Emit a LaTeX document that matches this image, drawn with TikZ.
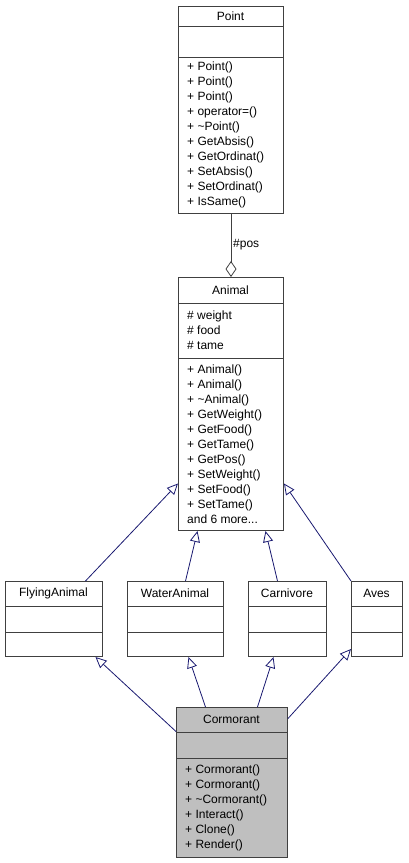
\documentclass[tikz,border=0pt]{standalone}
\usepackage{fontspec}
\setmainfont{Liberation Sans}
\usetikzlibrary{arrows.meta,calc}
\definecolor{edgeblue}{HTML}{191970}
\definecolor{boxgray}{HTML}{404040}
\definecolor{fillgray}{HTML}{BFBFBF}
\begin{document}
\begin{tikzpicture}[x=1pt,y=-1pt,
  classbox/.style={draw=boxgray, line width=1pt, rectangle, inner sep=0pt, anchor=north west},
  sepline/.style={draw=boxgray, line width=1pt},
  title/.style={font=\fontsize{12}{15}\selectfont, inner sep=0pt},
  members/.style={font=\fontsize{12}{15}\selectfont, inner sep=0pt, align=left, anchor=west},
  inherit/.style={draw=edgeblue, line width=0.8pt, -{Triangle[open, length=11pt, width=10pt]}},
  compose/.style={draw=boxgray, line width=0.8pt, -{Diamond[open, length=16pt, width=11pt]}}
]
\useasboundingbox (0,0) rectangle (408,863);

% Point
\node[classbox, minimum width=105pt, minimum height=207pt] (point) at (178,6) {};
\draw[sepline] (178,26) -- (283,26);
\draw[sepline] (178,57) -- (283,57);
\node[title] (pointT) at (230.5,16) {Point};
\node[members] (pointM) at (187,135) {+ Point()\\+ Point()\\+ Point()\\+ operator=()\\+ \textasciitilde Point()\\+ GetAbsis()\\+ GetOrdinat()\\+ SetAbsis()\\+ SetOrdinat()\\+ IsSame()};

% Animal
\node[classbox, minimum width=105pt, minimum height=253pt] (animal) at (178,277) {};
\draw[sepline] (178,303) -- (283,303);
\draw[sepline] (178,358) -- (283,358);
\node[title] (animalT) at (230.5,290) {Animal};
\node[members] (animalA) at (187,330.5) {\# weight\\\# food\\\# tame};
\node[members] (animalM) at (187,444) {+ Animal()\\+ Animal()\\+ \textasciitilde Animal()\\+ GetWeight()\\+ GetFood()\\+ GetTame()\\+ GetPos()\\+ SetWeight()\\+ SetFood()\\+ SetTame()\\and 6 more...};

% FlyingAnimal
\node[classbox, minimum width=97pt, minimum height=75pt] (fly) at (5,581) {};
\draw[sepline] (5,606) -- (102,606);
\draw[sepline] (5,632) -- (102,632);
\node[title] (flyT) at (53.5,593.5) {FlyingAnimal};

% WaterAnimal
\node[classbox, minimum width=96pt, minimum height=75pt] (water) at (127,581) {};
\draw[sepline] (127,606) -- (223,606);
\draw[sepline] (127,632) -- (223,632);
\node[title] (waterT) at (175,593.5) {WaterAnimal};

% Carnivore
\node[classbox, minimum width=78pt, minimum height=75pt] (carn) at (248,581) {};
\draw[sepline] (248,606) -- (326,606);
\draw[sepline] (248,632) -- (326,632);
\node[title] (carnT) at (287,593.5) {Carnivore};

% Aves
\node[classbox, minimum width=51pt, minimum height=75pt] (aves) at (351,581) {};
\draw[sepline] (351,606) -- (402,606);
\draw[sepline] (351,632) -- (402,632);
\node[title] (avesT) at (376.5,593.5) {Aves};

% Cormorant
\node[classbox, fill=fillgray, minimum width=111pt, minimum height=150pt] (corm) at (176,707) {};
\draw[sepline] (176,732) -- (287,732);
\draw[sepline] (176,758) -- (287,758);
\node[title] (cormT) at (231.5,719.5) {Cormorant};
\node[members] (cormM) at (185,807.5) {+ Cormorant()\\+ Cormorant()\\+ \textasciitilde Cormorant()\\+ Interact()\\+ Clone()\\+ Render()};

% composition
\draw[compose] (point.south) -- (animal.north);
\node[font=\fontsize{12}{15}\selectfont, inner sep=0pt, anchor=west] (posL) at (233,245) {\#pos};

% inheritance
\draw[inherit] ($(fly.north)+(31.5,0)$) -- ($(animal.west)+(0,79.5)$);
\draw[inherit] ($(water.north)+(10,0)$) -- ($(animal.south)+(-33.5,0)$);
\draw[inherit] ($(carn.north)+(-10,0)$) -- ($(animal.south)+(34.5,0)$);
\draw[inherit] (aves.north west) -- ($(animal.east)+(0,79.5)$);

\draw[inherit] ($(corm.west)+(0,-51)$) -- ($(fly.south)+(41.5,0)$);
\draw[inherit] ($(corm.north)+(-26.5,0)$) -- ($(water.south)+(13,0)$);
\draw[inherit] ($(corm.north)+(25.5,0)$) -- ($(carn.south)+(-14,0)$);
\draw[inherit] ($(corm.east)+(0,-64)$) -- ($(aves.south west)+(0,-8)$);
\end{tikzpicture}
\end{document}
